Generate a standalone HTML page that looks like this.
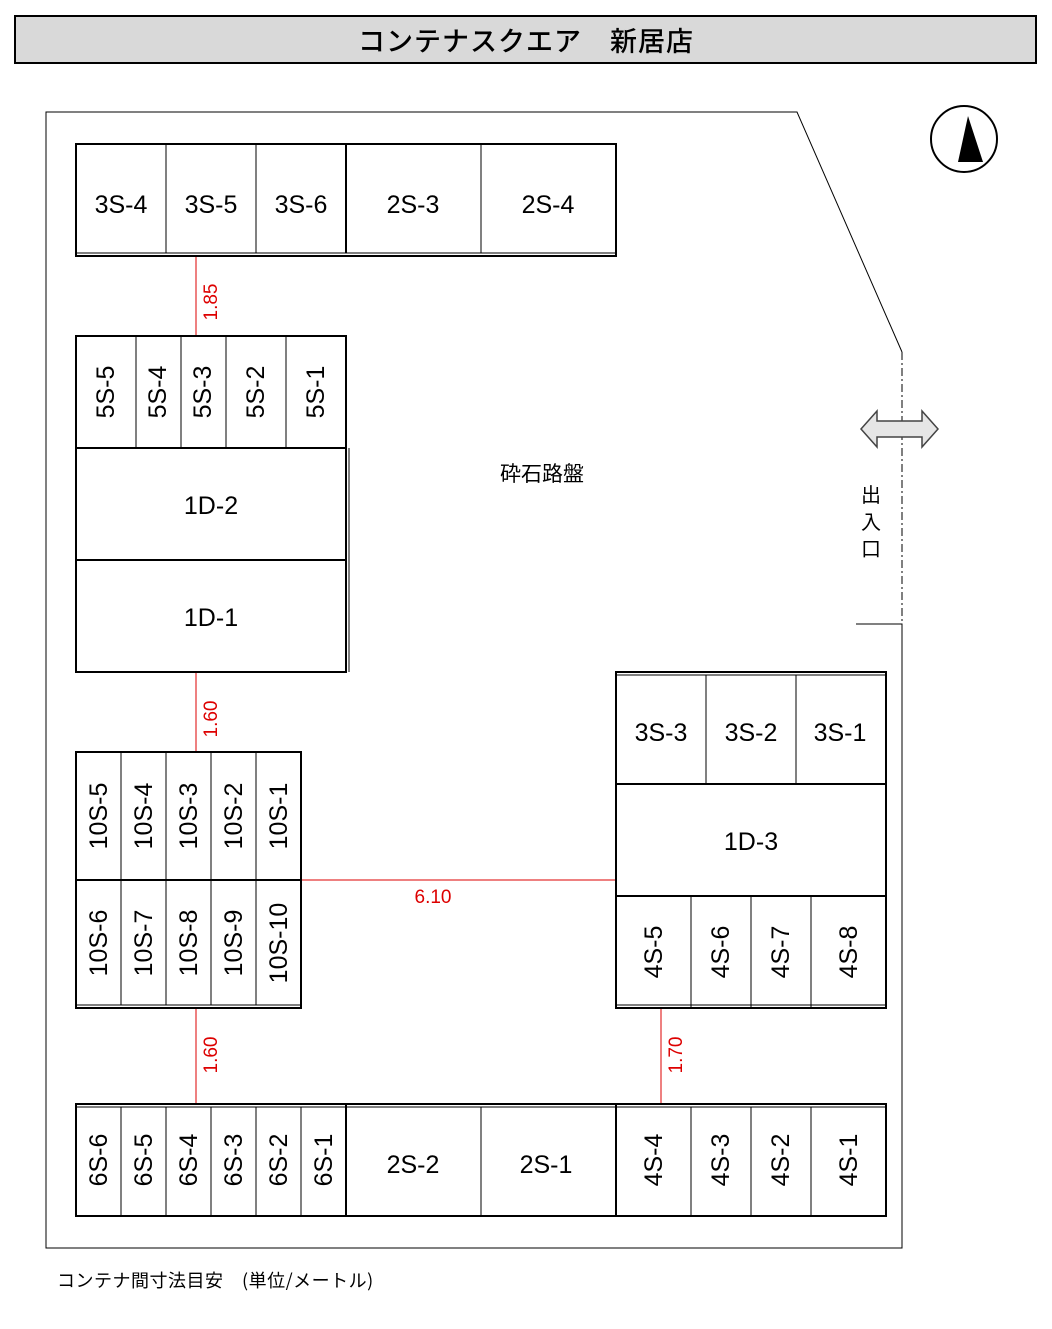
<!DOCTYPE html>
<html><head><meta charset="utf-8"><style>body{margin:0;background:#fff}svg{display:block}</style></head><body>
<svg width="1052" height="1329" xmlns="http://www.w3.org/2000/svg" font-family="Liberation Sans, Noto Sans CJK JP, sans-serif">
<rect x="15" y="16" width="1021" height="47" fill="#d9d9d9" stroke="#000" stroke-width="2"/>
<text x="526" y="51" font-size="27" text-anchor="middle" font-family="Noto Sans CJK JP, sans-serif" font-weight="500" letter-spacing="1">コンテナスクエア　新居店</text>
<g fill="none" stroke="#000" stroke-width="1">
<polyline points="902,352 797,112 46,112 46,1248 902,1248 902,624 856,624"/>
<line x1="902" y1="352" x2="902" y2="624" stroke-dasharray="8,3,2,3"/>
</g>
<circle cx="964" cy="139" r="33" fill="none" stroke="#000" stroke-width="2"/>
<polygon points="968,116 958,162 983,162" fill="#000"/>
<polygon points="861,429 877,411 877,421 922,421 922,411 938,429 922,447 922,437 877,437 877,447" fill="#e6e6e6" stroke="#444" stroke-width="1.5"/>
<g font-size="20" text-anchor="middle" font-family="Noto Sans CJK JP, sans-serif"><text x="871" y="502">出</text><text x="871" y="529">入</text><text x="871" y="556">口</text></g>
<text x="542" y="481" font-size="21" text-anchor="middle" font-family="Noto Sans CJK JP, sans-serif">砕石路盤</text>
<text x="57" y="1287" font-size="18" font-family="Noto Sans CJK JP, sans-serif" letter-spacing="0.5">コンテナ間寸法目安　(単位/メートル)</text>
<g stroke="#d00" stroke-width="1">
<line x1="196" y1="256" x2="196" y2="336"/><line x1="196" y1="672" x2="196" y2="752"/>
<line x1="196" y1="1008" x2="196" y2="1104"/><line x1="661" y1="1008" x2="661" y2="1104"/>
<line x1="301" y1="880" x2="616" y2="880"/>
</g>
<g fill="#d00" font-size="19">
<text transform="translate(217,302) rotate(-90)" text-anchor="middle">1.85</text>
<text transform="translate(217,719) rotate(-90)" text-anchor="middle">1.60</text>
<text transform="translate(217,1055) rotate(-90)" text-anchor="middle">1.60</text>
<text transform="translate(682,1055) rotate(-90)" text-anchor="middle">1.70</text>
<text x="433" y="903" text-anchor="middle">6.10</text>
</g>
<g fill="none" stroke="#000" stroke-width="2">
<rect x="76" y="144" width="540" height="112"/><line x1="76" y1="253" x2="616" y2="253" stroke-width="1"/>
<line x1="166" y1="144" x2="166" y2="253" stroke-width="1"/><line x1="256" y1="144" x2="256" y2="253" stroke-width="1"/><line x1="346" y1="144" x2="346" y2="253"/><line x1="481" y1="144" x2="481" y2="253" stroke-width="1"/>
<rect x="76" y="336" width="270" height="336"/><line x1="76" y1="448" x2="346" y2="448"/><line x1="76" y1="560" x2="346" y2="560"/>
<line x1="349" y1="448" x2="349" y2="672" stroke-width="1"/>
<g stroke-width="1"><line x1="136" y1="336" x2="136" y2="448"/><line x1="181" y1="336" x2="181" y2="448"/><line x1="226" y1="336" x2="226" y2="448"/><line x1="286" y1="336" x2="286" y2="448"/></g>
<rect x="76" y="752" width="225" height="256"/><line x1="76" y1="880" x2="301" y2="880"/><line x1="76" y1="1005" x2="301" y2="1005" stroke-width="1"/>
<g stroke-width="1"><line x1="121" y1="752" x2="121" y2="1005"/><line x1="166" y1="752" x2="166" y2="1005"/><line x1="211" y1="752" x2="211" y2="1005"/><line x1="256" y1="752" x2="256" y2="1005"/></g>
<rect x="616" y="672" width="270" height="336"/><line x1="616" y1="784" x2="886" y2="784"/><line x1="616" y1="896" x2="886" y2="896"/><line x1="616" y1="675" x2="886" y2="675" stroke-width="1"/>
<g stroke-width="1"><line x1="706" y1="675" x2="706" y2="784"/><line x1="796" y1="675" x2="796" y2="784"/><line x1="691" y1="896" x2="691" y2="1008"/><line x1="751" y1="896" x2="751" y2="1008"/><line x1="811" y1="896" x2="811" y2="1008"/><line x1="616" y1="1005" x2="886" y2="1005"/></g>
<rect x="76" y="1104" width="810" height="112"/><line x1="76" y1="1107" x2="886" y2="1107" stroke-width="1"/>
<line x1="346" y1="1104" x2="346" y2="1216"/><line x1="616" y1="1104" x2="616" y2="1216"/>
<g stroke-width="1"><line x1="121" y1="1107" x2="121" y2="1216"/><line x1="166" y1="1107" x2="166" y2="1216"/><line x1="211" y1="1107" x2="211" y2="1216"/><line x1="256" y1="1107" x2="256" y2="1216"/><line x1="301" y1="1107" x2="301" y2="1216"/><line x1="481" y1="1107" x2="481" y2="1216"/><line x1="691" y1="1107" x2="691" y2="1216"/><line x1="751" y1="1107" x2="751" y2="1216"/><line x1="811" y1="1107" x2="811" y2="1216"/></g>
</g>
<g font-size="25" text-anchor="middle" fill="#000">
<text x="121" y="213">3S-4</text><text x="211" y="213">3S-5</text><text x="301" y="213">3S-6</text><text x="413" y="213">2S-3</text><text x="548" y="213">2S-4</text>
<text x="211" y="514">1D-2</text><text x="211" y="626">1D-1</text>
<text x="661" y="741">3S-3</text><text x="751" y="741">3S-2</text><text x="840" y="741">3S-1</text>
<text x="751" y="850">1D-3</text>
<text x="413" y="1173">2S-2</text><text x="546" y="1173">2S-1</text>
</g>
<g font-size="25" text-anchor="middle" fill="#000">
<text transform="translate(114,392) rotate(-90)">5S-5</text><text transform="translate(166,392) rotate(-90)">5S-4</text><text transform="translate(211,392) rotate(-90)">5S-3</text><text transform="translate(264,392) rotate(-90)">5S-2</text><text transform="translate(324,392) rotate(-90)">5S-1</text>
<text transform="translate(107,816) rotate(-90)">10S-5</text><text transform="translate(152,816) rotate(-90)">10S-4</text><text transform="translate(197,816) rotate(-90)">10S-3</text><text transform="translate(242,816) rotate(-90)">10S-2</text><text transform="translate(287,816) rotate(-90)">10S-1</text>
<text transform="translate(107,943) rotate(-90)">10S-6</text><text transform="translate(152,943) rotate(-90)">10S-7</text><text transform="translate(197,943) rotate(-90)">10S-8</text><text transform="translate(242,943) rotate(-90)">10S-9</text><text transform="translate(287,943) rotate(-90)">10S-10</text>
<text transform="translate(662,952) rotate(-90)">4S-5</text><text transform="translate(729,952) rotate(-90)">4S-6</text><text transform="translate(789,952) rotate(-90)">4S-7</text><text transform="translate(857,952) rotate(-90)">4S-8</text>
<text transform="translate(107,1160) rotate(-90)">6S-6</text><text transform="translate(152,1160) rotate(-90)">6S-5</text><text transform="translate(197,1160) rotate(-90)">6S-4</text><text transform="translate(242,1160) rotate(-90)">6S-3</text><text transform="translate(287,1160) rotate(-90)">6S-2</text><text transform="translate(332,1160) rotate(-90)">6S-1</text>
<text transform="translate(662,1160) rotate(-90)">4S-4</text><text transform="translate(729,1160) rotate(-90)">4S-3</text><text transform="translate(789,1160) rotate(-90)">4S-2</text><text transform="translate(857,1160) rotate(-90)">4S-1</text>
</g>
</svg>
</body></html>
